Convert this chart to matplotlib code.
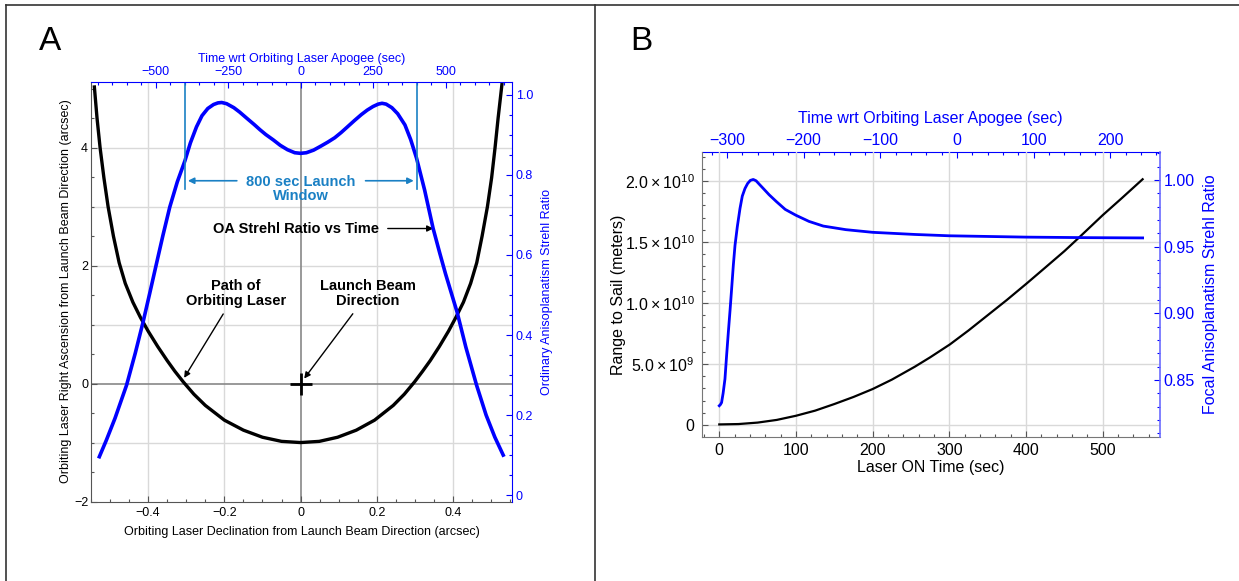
import numpy as np
import matplotlib.pyplot as plt
from matplotlib.ticker import MultipleLocator, FuncFormatter
from matplotlib.lines import Line2D

plt.rcParams['font.family'] = ['Liberation Sans', 'DejaVu Sans']
plt.rcParams['mathtext.default'] = 'regular'

# ---- panel A : path of orbiting laser (arcsec) ----
dec_arcsec = [-0.541, -0.534, -0.526, -0.516, -0.505, -0.491, -0.476, -0.46, -0.44, -0.42, -0.40,
              -0.375, -0.35, -0.33, -0.308, -0.28, -0.25, -0.2, -0.15, -0.1, -0.05, 0.0,
              0.049, 0.097, 0.146, 0.194, 0.243, 0.272, 0.299, 0.320, 0.340, 0.364, 0.388,
              0.407, 0.427, 0.446, 0.462, 0.476, 0.490, 0.501, 0.510, 0.518, 0.528]
ra_arcsec = [5.03, 4.5, 4.0, 3.49, 3.0, 2.5, 2.05, 1.7, 1.38, 1.12, 0.89,
             0.63, 0.39, 0.21, 0.03, -0.18, -0.37, -0.62, -0.79, -0.91, -0.98, -1.0,
             -0.98, -0.91, -0.79, -0.62, -0.37, -0.18, 0.03, 0.21, 0.39, 0.63, 0.89,
             1.12, 1.38, 1.7, 2.05, 2.5, 3.0, 3.49, 4.0, 4.5, 5.07]

# OA strehl ratio vs time wrt apogee
apogee_time = [-694, -670, -640, -600, -570, -543, -520, -499, -475, -451, -425, -399, -380, -359, -340,
               -320, -300, -285, -272, -255, -230, -210, -186, -160, -140, -120, -94, -70, -45, -20, 0,
               20, 45, 70, 94, 118, 140, 160, 186, 210, 230, 250, 268, 281, 295, 315, 335, 360, 380,
               400, 428, 457, 480, 500, 520, 540, 570, 607, 640, 670, 699]
oa_strehl = [0.096, 0.137, 0.192, 0.275, 0.355, 0.433, 0.505, 0.572, 0.648, 0.72, 0.783, 0.835, 0.880, 0.920, 0.948,
             0.966, 0.976, 0.980, 0.981, 0.978, 0.968, 0.957, 0.942, 0.926, 0.913, 0.901, 0.8875, 0.874, 0.863, 0.8555, 0.854,
             0.8555, 0.862, 0.872, 0.882, 0.893, 0.906, 0.919, 0.936, 0.951, 0.962, 0.971, 0.977, 0.979, 0.977, 0.968,
             0.953, 0.925, 0.888, 0.842, 0.762, 0.667, 0.605, 0.553, 0.505, 0.457, 0.37, 0.275, 0.20, 0.145, 0.10]
window_times = [-400, 400]
launch_point = (0, 0)

# ---- panel B : range to sail and focal anisoplanatism strehl ----
strehl_time = [0, 1.5, 3, 5, 7.4, 9.5, 11.8, 14, 16.1, 18.3, 20.5, 23.5, 27, 30, 33.5, 37, 40.5, 44.3, 48, 52,
               57.4, 65, 74.8, 86, 100, 117, 135.6, 165, 200, 255, 300, 400, 480, 552]
focal_strehl = [0.8306, 0.8315, 0.833, 0.840, 0.8507, 0.868, 0.8858, 0.902, 0.9184, 0.936, 0.951, 0.965, 0.9787,
                0.988, 0.9937, 0.9975, 0.9998, 1.0005, 0.9995, 0.997, 0.9937, 0.989, 0.9837, 0.978, 0.9736,
                0.969, 0.9655, 0.9628, 0.9608, 0.9592, 0.9582, 0.9572, 0.9568, 0.9566]
range_time = [0, 25, 50, 75, 100, 125, 150, 175, 200, 225, 255, 275, 300.8, 325, 350, 375, 400.8, 425, 450,
              468, 500, 525, 552]
range_to_sail = [0.05e9, 0.08e9, 0.2e9, 0.42e9, 0.76e9, 1.18e9, 1.72e9, 2.3e9, 2.95e9, 3.72e9, 4.78e9, 5.55e9,
                 6.61e9, 7.75e9, 9.0e9, 10.25e9, 11.6e9, 12.9e9, 14.25e9, 15.3e9, 17.2e9, 18.6e9, 20.14e9]
apogee_offset = 310  # laser ON time 0 relative to apogee

BLUE = '#0000ff'
TEAL = '#1a80c4'
GRID = '#d9d9d9'


def num_fmt(v, pos):
    if abs(v) < 1e-9:
        return '0'
    return ('%g' % v).replace('-', '\u2212')


def sci_fmt(v, pos):
    if abs(v) < 1e-3:
        return '0'
    e = int(np.floor(np.log10(abs(v))))
    return '%.1f\u2009\u00d7\u200910$^{%d}$' % (v / 10**e, e)


fig = plt.figure(figsize=(12.39, 5.81), dpi=100)

# ---------------- panel A ----------------
rectA = [0.0734, 0.1368, 0.3400, 0.7226]
ax = fig.add_axes(rectA)
ax.set_xlim(-0.550, 0.555)
ax.set_ylim(-2.0, 5.12)
for gx in [-0.4, -0.2, 0.2, 0.4]:
    ax.axvline(gx, color=GRID, lw=1, zorder=0)
for gy in [-1, 1, 2, 3, 4]:
    ax.axhline(gy, color=GRID, lw=1, zorder=0)
ax.axhline(0, color='#888888', lw=1.2, zorder=1)
ax.axvline(0, color='#888888', lw=1.2, zorder=1)
ax.plot(dec_arcsec, ra_arcsec, color='black', lw=2.4, zorder=3)
ax.plot(*launch_point, marker='+', ms=16, mew=2, color='black', zorder=4)

ax.xaxis.set_major_locator(MultipleLocator(0.2))
ax.xaxis.set_minor_locator(MultipleLocator(0.05))
ax.yaxis.set_major_locator(MultipleLocator(2))
ax.yaxis.set_minor_locator(MultipleLocator(0.5))
ax.xaxis.set_major_formatter(FuncFormatter(num_fmt))
ax.yaxis.set_major_formatter(FuncFormatter(num_fmt))
ax.tick_params(which='both', direction='in', labelsize=9, color='#555555', width=0.8)
ax.tick_params(axis='x', pad=4)
ax.tick_params(axis='y', pad=2)
ax.tick_params(which='major', length=4)
ax.tick_params(which='minor', length=2)
ax.spines['top'].set_visible(False)
ax.spines['right'].set_visible(False)
for s in ['left', 'bottom']:
    ax.spines[s].set_color('#555555')
ax.set_xlabel('Orbiting Laser Declination from Launch Beam Direction (arcsec)', fontsize=9)
ax.set_ylabel('Orbiting Laser Right Ascension from Launch Beam Direction (arcsec)', fontsize=9)
ax.xaxis.set_label_coords(0.5, -0.058)
ax.yaxis.set_label_coords(-0.046, 0.5)

axb = fig.add_axes(rectA, label='strehlA')
axb.patch.set_visible(False)
axb.set_xlim(-723, 730)
axb.set_ylim(-0.016, 1.033)
axb.plot(apogee_time, oa_strehl, color=BLUE, lw=2.6, zorder=2)
for wt in window_times:
    axb.axvline(wt, ymin=0.744, ymax=1, color=TEAL, lw=1.2)
axb.xaxis.tick_top()
axb.xaxis.set_label_position('top')
axb.yaxis.tick_right()
axb.yaxis.set_label_position('right')
axb.xaxis.set_major_locator(MultipleLocator(250))
axb.xaxis.set_minor_locator(MultipleLocator(50))
axb.yaxis.set_major_locator(MultipleLocator(0.2))
axb.yaxis.set_minor_locator(MultipleLocator(0.05))
axb.xaxis.set_major_formatter(FuncFormatter(num_fmt))
axb.yaxis.set_major_formatter(FuncFormatter(lambda v, p: '0' if abs(v) < 1e-9 else '%.1f' % v))
axb.tick_params(which='both', direction='in', labelsize=9, pad=2.5, color=BLUE, labelcolor=BLUE, width=0.8)
axb.tick_params(which='major', length=4)
axb.tick_params(which='minor', length=2)
axb.spines['left'].set_visible(False)
axb.spines['bottom'].set_visible(False)
axb.spines['top'].set_color(BLUE)
axb.spines['right'].set_color(BLUE)
axb.set_xlabel('Time wrt Orbiting Laser Apogee (sec)', fontsize=9, color=BLUE)
axb.set_ylabel('Ordinary Anisoplanatism Strehl Ratio', fontsize=9, color=BLUE)
axb.xaxis.set_label_coords(0.5, 1.046)
axb.yaxis.set_label_coords(1.068, 0.5)

# annotations (panel A data coords)
ax.text(0.0, 3.30, '800 sec Launch\nWindow', color=TEAL, fontsize=10.5, fontweight='bold',
        ha='center', va='center', linespacing=1.05, zorder=5)
ax.annotate('', xy=(-0.303, 3.44), xytext=(-0.16, 3.44),
            arrowprops=dict(arrowstyle='-|>', color=TEAL, lw=1.2, mutation_scale=9))
ax.annotate('', xy=(0.304, 3.44), xytext=(0.163, 3.44),
            arrowprops=dict(arrowstyle='-|>', color=TEAL, lw=1.2, mutation_scale=9))
ax.annotate('OA Strehl Ratio vs Time', xy=(0.348, 2.63), xytext=(-0.011, 2.63),
            fontsize=10.5, fontweight='bold', ha='center', va='center',
            arrowprops=dict(arrowstyle='-|>', color='black', lw=1, mutation_scale=9, shrinkA=4, shrinkB=0))
ax.annotate('Path of\nOrbiting Laser', xy=(-0.3055, 0.097), xytext=(-0.17, 1.53),
            fontsize=10.5, fontweight='bold', ha='center', va='center', linespacing=1.05,
            arrowprops=dict(arrowstyle='-|>', color='black', lw=1, mutation_scale=9, shrinkA=3, shrinkB=0))
ax.annotate('Launch Beam\nDirection', xy=(0.0094, 0.085), xytext=(0.177, 1.53),
            fontsize=10.5, fontweight='bold', ha='center', va='center', linespacing=1.05,
            arrowprops=dict(arrowstyle='-|>', color='black', lw=1, mutation_scale=9, shrinkA=3, shrinkB=0))

# ---------------- panel B ----------------
rectB = [0.5663, 0.2487, 0.3699, 0.4892]
ax2 = fig.add_axes(rectB)
ax2.set_xlim(-23, 574.6)
ax2.set_ylim(-0.94e9, 22.35e9)
ax2.plot(range_time, range_to_sail, color='black', lw=1.6, zorder=3)
ax2.xaxis.set_major_locator(MultipleLocator(100))
ax2.xaxis.set_minor_locator(MultipleLocator(20))
ax2.yaxis.set_major_locator(MultipleLocator(5e9))
ax2.yaxis.set_minor_locator(MultipleLocator(1e9))
ax2.yaxis.set_major_formatter(FuncFormatter(sci_fmt))
ax2.grid(True, which='major', color=GRID, lw=1)
ax2.set_axisbelow(True)
ax2.tick_params(which='both', direction='in', labelsize=11.5, pad=5, color='#555555', width=0.8)
ax2.tick_params(which='major', length=4)
ax2.tick_params(which='minor', length=2)
ax2.spines['top'].set_visible(False)
ax2.spines['right'].set_visible(False)
for s in ['left', 'bottom']:
    ax2.spines[s].set_color('#777777')
ax2.set_xlabel('Laser ON Time (sec)', fontsize=11.5)
ax2.set_ylabel('Range to Sail (meters)', fontsize=11.5)
ax2.xaxis.set_label_coords(0.5, -0.083)
ax2.yaxis.set_label_coords(-0.165, 0.5)

ax2r = ax2.twinx()
ax2r.set_ylim(0.8075, 1.0209)
ax2r.plot(strehl_time, focal_strehl, color=BLUE, lw=2.0, zorder=2)
ax2r.yaxis.set_major_locator(MultipleLocator(0.05))
ax2r.yaxis.set_minor_locator(MultipleLocator(0.01))
ax2r.yaxis.set_major_formatter(FuncFormatter(lambda v, p: '%.2f' % v))
ax2r.tick_params(which='both', direction='in', labelsize=11.5, pad=2.5, color=BLUE, labelcolor=BLUE, width=0.8)
ax2r.tick_params(which='major', length=4)
ax2r.tick_params(which='minor', length=2)
ax2r.spines['left'].set_visible(False)
ax2r.spines['bottom'].set_visible(False)
ax2r.spines['top'].set_visible(False)
ax2r.spines['right'].set_color('#6b6bff')
ax2r.spines['right'].set_linewidth(1.2)
ax2r.set_ylabel('Focal Anisoplanatism Strehl Ratio', fontsize=11.5, color=BLUE)
ax2r.yaxis.set_label_coords(1.093, 0.5)

top2 = ax2.secondary_xaxis('top', functions=(lambda t: t - apogee_offset, lambda t: t + apogee_offset))
top2.xaxis.set_major_locator(MultipleLocator(100))
top2.xaxis.set_minor_locator(MultipleLocator(20))
top2.xaxis.set_major_formatter(FuncFormatter(num_fmt))
top2.tick_params(which='both', direction='in', labelsize=11.5, pad=3, color=BLUE, labelcolor=BLUE, width=0.8)
top2.tick_params(which='major', length=4)
top2.tick_params(which='minor', length=2)
top2.spines['top'].set_color(BLUE)
top2.set_xlabel('Time wrt Orbiting Laser Apogee (sec)', fontsize=11.5, color=BLUE, labelpad=7)

# panel letters and borders
fig.text(50 / 1239, 1 - 42 / 581, 'A', fontsize=24, ha='center', va='center')
fig.text(641 / 1239, 1 - 42 / 581, 'B', fontsize=24, ha='center', va='center')
fig.add_artist(Line2D([6 / 1239, 6 / 1239], [0, 1 - 5 / 581], color='#333333', lw=1.2))
fig.add_artist(Line2D([595 / 1239, 595 / 1239], [0, 1 - 5 / 581], color='#333333', lw=1.2))
fig.add_artist(Line2D([6 / 1239, 1], [1 - 5 / 581, 1 - 5 / 581], color='#333333', lw=1.2))

fig.savefig('out.png', dpi=100)
